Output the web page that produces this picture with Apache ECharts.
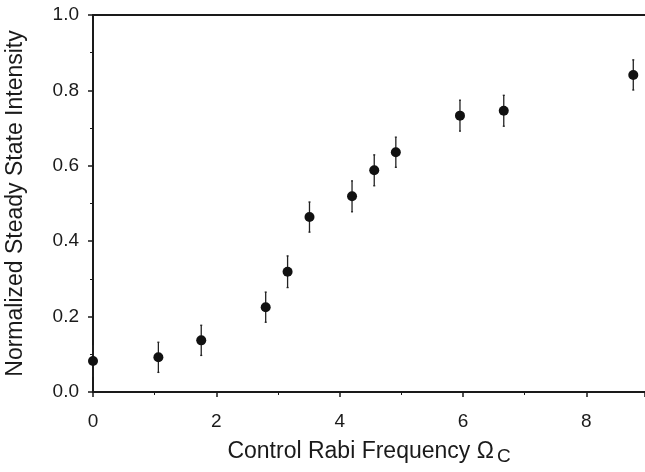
<!DOCTYPE html>
<html>
<head>
<meta charset="utf-8">
<script src="https://cdn.jsdelivr.net/npm/echarts@6/dist/echarts.min.js"></script>
<style>
  html, body { margin: 0; padding: 0; background: #fff; }
  #chart { width: 645px; height: 472px; }
</style>
</head>
<body>
<div id="chart"></div>
<script>
// control Rabi frequency values
const rabi = [0, 1.06, 1.755, 2.80, 3.155, 3.51, 4.20, 4.56, 4.91, 5.95, 6.66, 8.76];
// normalized steady state intensity
const intensity = [0.082, 0.092, 0.137, 0.225, 0.319, 0.464, 0.519, 0.588, 0.636, 0.733, 0.746, 0.841];
// half-length of each error bar
const errors = [0.04, 0.04, 0.04, 0.04, 0.042, 0.04, 0.041, 0.041, 0.04, 0.041, 0.041, 0.04];

const xTicks = [0, 2, 4, 6, 8];
const yTicks = [0.0, 0.2, 0.4, 0.6, 0.8, 1.0];

const points = rabi.map((x, i) => [x, intensity[i]]);
const bars = rabi.map((x, i) => [x, intensity[i] - errors[i], intensity[i] + errors[i]]);

const font = '"Liberation Sans", Arial, sans-serif';
const ink = '#1a1a1a';

const chart = echarts.init(document.getElementById('chart'));

chart.setOption({
  animation: false,
  backgroundColor: '#fff',
  grid: { left: 93, right: 0, top: 15, bottom: 80, outerBoundsMode: 'none', containLabel: false },
  xAxis: [
    {
      type: 'value',
      min: 0,
      max: 8.95,
      interval: 2,
      name: '{t|Control Rabi Frequency }{o|Ω}{s|C}',
      nameLocation: 'middle',
      nameGap: 45,
      nameTextStyle: {
        rich: {
          t: { fontFamily: font, fontSize: 23, color: ink },
          o: { fontFamily: font, fontSize: 23, color: ink },
          s: { fontFamily: font, fontSize: 19, color: ink, padding: [10, 0, 0, 3] }
        }
      },
      axisLine: { show: true, onZero: false, lineStyle: { color: ink, width: 2 } },
      axisTick: { show: true, inside: false, length: 5, lineStyle: { color: ink, width: 1.5 } },
      minorTick: { show: true, splitNumber: 2, length: 3, lineStyle: { color: ink, width: 1 } },
      axisLabel: {
        margin: 20,
        fontFamily: font,
        fontSize: 19,
        color: ink,
        showMaxLabel: false,
        formatter: v => (xTicks.includes(v) ? String(v) : '')
      },
      splitLine: { show: false }
    },
    {
      type: 'value',
      position: 'top',
      min: 0,
      max: 8.95,
      axisLine: { show: true, onZero: false, lineStyle: { color: ink, width: 2 } },
      axisTick: { show: false },
      axisLabel: { show: false },
      splitLine: { show: false }
    }
  ],
  yAxis: {
    type: 'value',
    min: 0,
    max: 1,
    interval: 0.2,
    name: 'Normalized Steady State Intensity',
    nameLocation: 'middle',
    nameGap: 66,
    nameTextStyle: { fontFamily: font, fontSize: 23, color: ink },
    axisLine: { show: true, onZero: false, lineStyle: { color: ink, width: 2 } },
    axisTick: { show: true, inside: false, length: 5, lineStyle: { color: ink, width: 1.5 } },
    minorTick: { show: true, splitNumber: 2, length: 3, lineStyle: { color: ink, width: 1 } },
    axisLabel: {
      margin: 14,
      fontFamily: font,
      fontSize: 19,
      color: ink,
      formatter: v => {
        const t = yTicks.find(k => Math.abs(k - v) < 1e-9);
        return t === undefined ? '' : t.toFixed(1);
      }
    },
    splitLine: { show: false }
  },
  series: [
    {
      type: 'custom',
      data: bars,
      z: 2,
      renderItem: (params, api) => {
        const x = api.value(0);
        const lo = api.coord([x, api.value(1)]);
        const hi = api.coord([x, api.value(2)]);
        const style = { stroke: '#222', lineWidth: 1.3 };
        return {
          type: 'group',
          children: [
            { type: 'line', shape: { x1: lo[0], y1: lo[1], x2: hi[0], y2: hi[1] }, style },
            { type: 'line', shape: { x1: lo[0] - 1, y1: lo[1], x2: lo[0] + 1, y2: lo[1] }, style },
            { type: 'line', shape: { x1: hi[0] - 1, y1: hi[1], x2: hi[0] + 1, y2: hi[1] }, style }
          ]
        };
      }
    },
    {
      type: 'scatter',
      data: points,
      z: 3,
      symbol: 'circle',
      symbolSize: 10,
      itemStyle: { color: '#111', opacity: 1 }
    }
  ]
});
</script>
</body>
</html>
